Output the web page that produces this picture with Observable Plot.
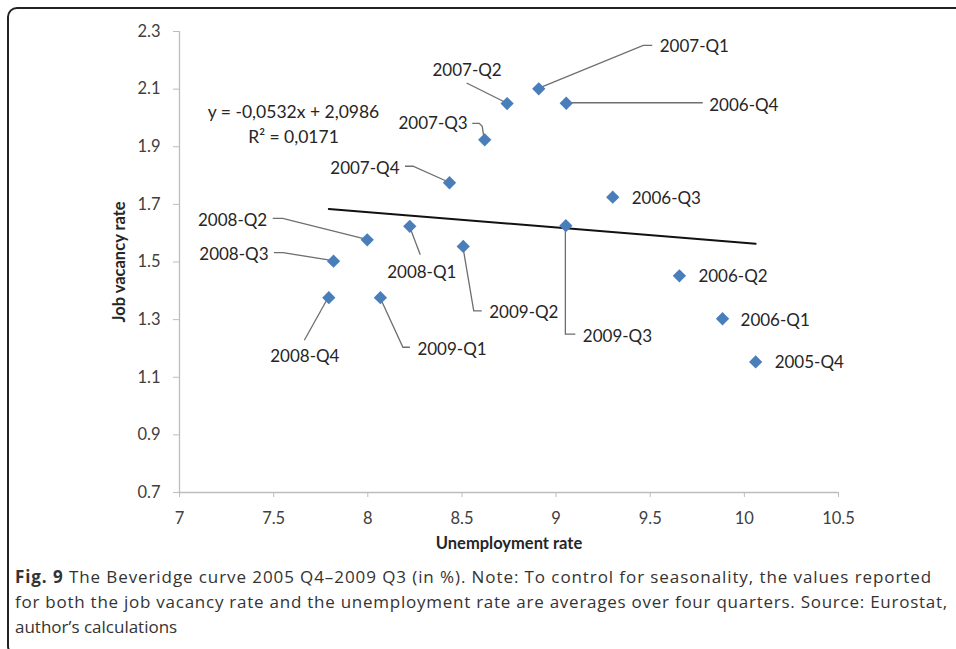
<!DOCTYPE html>
<html>
<head>
<meta charset="utf-8">
<script src="https://cdn.jsdelivr.net/npm/d3@7"></script>
<script src="https://cdn.jsdelivr.net/npm/@observablehq/plot@0.6"></script>
<style>
  html, body { margin: 0; padding: 0; background: #fff; }
  #wrap { position: relative; width: 956px; height: 649px; overflow: hidden; }
  #chart { position: absolute; left: 0; top: 0; }
  #frame { position: absolute; left: 7px; top: 7px; width: 1000px; height: 649px; box-sizing: border-box;
           border: 2px solid #222; border-radius: 10px; pointer-events: none; z-index: 2; }
  #caption { position: absolute; left: 15px; top: 564px; font-family: "Open Sans", sans-serif; font-size: 17px;
             line-height: 25px; color: #333; white-space: nowrap; }
  #caption span { display: inline-block; }
</style>
</head>
<body>
<div id="wrap">
  <div id="chart"></div>
  <div id="frame"></div>
  <div id="caption"><span data-w="917"><b>Fig. 9</b> The Beveridge curve 2005 Q4–2009 Q3 (in %). Note: To control for seasonality, the values reported</span><br><span data-w="933">for both the job vacancy rate and the unemployment rate are averages over four quarters. Source: Eurostat,</span><br><span>author’s calculations</span></div>
</div>
<script>
// ---- data ----
const quarters = ["2005-Q4","2006-Q1","2006-Q2","2006-Q3","2006-Q4","2007-Q1","2007-Q2","2007-Q3",
                  "2007-Q4","2008-Q1","2008-Q2","2008-Q3","2008-Q4","2009-Q1","2009-Q2","2009-Q3"];
const unemployment = [10.06, 9.884, 9.655, 9.301, 9.054, 8.908, 8.740, 8.621,
                      8.434, 8.223, 7.997, 7.818, 7.793, 8.067, 8.507, 9.052];
const vacancy = [1.153, 1.303, 1.452, 1.725, 2.051, 2.101, 2.050, 1.924,
                 1.775, 1.624, 1.577, 1.503, 1.376, 1.376, 1.554, 1.626];
const trendSlope = -0.0532;
const trendIntercept = 2.0986;
const trendR2 = 0.0171;
const xTicks = [7, 7.5, 8, 8.5, 9, 9.5, 10, 10.5];
const xTickLabels = ["7", "7.5", "8", "8.5", "9", "9.5", "10", "10.5"];
const yTicks = [0.7, 0.9, 1.1, 1.3, 1.5, 1.7, 1.9, 2.1, 2.3];
const yTickLabels = ["0.7", "0.9", "1.1", "1.3", "1.5", "1.7", "1.9", "2.1", "2.3"];
const xTitle = "Unemployment rate";
const yTitle = "Job vacancy rate";

// ---- label layout (pixel offsets from each point) ----
const labelLayout = {
  "2005-Q4": {dx: 19, dy: 1, anchor: "start"},
  "2006-Q1": {dx: 18, dy: 2, anchor: "start"},
  "2006-Q2": {dx: 19, dy: 1, anchor: "start"},
  "2006-Q3": {dx: 19, dy: 1, anchor: "start"},
  "2006-Q4": {dx: 143, dy: 2, anchor: "start", line: [[0,0],[137,0]]},
  "2007-Q1": {dx: 121, dy: -42, anchor: "start", line: [[0,0],[105,-43],[114,-43]]},
  "2007-Q2": {dx: -40, dy: -33, anchor: "middle", line: [[0,0],[-40,-20]]},
  "2007-Q3": {dx: -17, dy: -16, anchor: "end", line: [[0,0],[-2,-13],[-5,-16],[-12,-16]]},
  "2007-Q4": {dx: -50, dy: -14, anchor: "end", line: [[0,0],[-36,-16],[-44,-16]]},
  "2008-Q1": {dx: 12, dy: 46, anchor: "middle", line: [[0,0],[11,29]]},
  "2008-Q2": {dx: -100, dy: -19, anchor: "end", line: [[0,0],[-84,-21],[-94,-21]]},
  "2008-Q3": {dx: -65, dy: -7, anchor: "end", line: [[0,0],[-50,-8],[-59,-8]]},
  "2008-Q4": {dx: -24, dy: 59, anchor: "middle", line: [[0,0],[-24,43]]},
  "2009-Q1": {dx: 37, dy: 52, anchor: "start", line: [[0,0],[23,50],[30,50]]},
  "2009-Q2": {dx: 26, dy: 66, anchor: "start", line: [[0,0],[11,65],[19,65]]},
  "2009-Q3": {dx: 17, dy: 111, anchor: "start", line: [[0,0],[0,109],[10,109]]}
};

const points = quarters.map((q, i) => ({q, u: unemployment[i], v: vacancy[i]}));
const ux = d3.extent(unemployment);
const trend = ux.map(u => ({u, v: trendIntercept + trendSlope * u}));
const fmt = (n, k) => n.toFixed(k).replace(".", ",");
const eqText = "y = " + fmt(trendSlope, 4) + "x + " + fmt(trendIntercept, 4) + "\nR² = " + fmt(trendR2, 4);

function leaders(index, scales) {
  const g = d3.create("svg:g").attr("fill", "none").attr("stroke", "#6e6e6e").attr("stroke-width", 1.3);
  for (const d of points) {
    const L = labelLayout[d.q];
    if (!L.line) continue;
    const x0 = scales.x(d.u), y0 = scales.y(d.v);
    g.append("path").attr("d", "M" + L.line.map(([dx, dy]) => (x0 + dx) + "," + (y0 + dy)).join("L"));
  }
  return g.node();
}

const labelMarks = points.map(d => {
  const L = labelLayout[d.q];
  return Plot.text([d], {x: "u", y: "v", text: "q", dx: L.dx, dy: L.dy, textAnchor: L.anchor,
                         fill: "#262626", fontSize: 17});
});

const plot = Plot.plot({
  width: 956,
  height: 560,
  marginLeft: 179,
  marginRight: 118,
  marginTop: 31,
  marginBottom: 68,
  style: {fontFamily: "Lato, sans-serif", background: "transparent", overflow: "visible"},
  x: {domain: [7, 10.5]},
  y: {domain: [0.7, 2.3]},
  marks: [
    Plot.ruleY([0.7], {stroke: "#bdbdbd", strokeWidth: 1.3}),
    Plot.ruleX([7], {stroke: "#bdbdbd", strokeWidth: 1.3}),
    Plot.axisX({ticks: xTicks, tickFormat: d => xTickLabels[xTicks.indexOf(d)], tickSize: 5, tickPadding: 15,
                stroke: "#bdbdbd", fill: "#404040", fontSize: 16.5, label: null}),
    Plot.axisY({ticks: yTicks, tickFormat: d => yTickLabels[yTicks.indexOf(d)], tickSize: 6, tickPadding: 13,
                stroke: "#bdbdbd", fill: "#404040", fontSize: 16.5, label: null}),
    Plot.text([xTitle], {frameAnchor: "bottom", dy: 51, text: d => d, textAnchor: "middle", lineAnchor: "middle",
                         fontWeight: "bold", fontSize: 16.5, fill: "#262626"}),
    Plot.text([yTitle], {frameAnchor: "left", dx: -60, rotate: -90, text: d => d, textAnchor: "middle",
                         lineAnchor: "middle", fontWeight: "bold", fontSize: 16.5, fill: "#262626"}),
    leaders,
    Plot.line(trend, {x: "u", y: "v", stroke: "#111", strokeWidth: 2}),
    Plot.dot(points, {x: "u", y: "v", symbol: "square", rotate: 45, r: 5.3, fill: "#4a7ebb", stroke: "none"}),
    ...labelMarks,
    Plot.text([eqText], {frameAnchor: "top-left", dx: 114, dy: 91, text: d => d, textAnchor: "middle",
                         lineAnchor: "middle", lineHeight: 1.4, fontSize: 17.5, fill: "#262626"})
  ]
});
document.getElementById("chart").appendChild(plot);

// stretch caption lines to the widths seen in the figure
function fitCaption() {
  document.querySelectorAll("#caption span[data-w]").forEach(s => {
    s.style.letterSpacing = "0px";
    const w = s.getBoundingClientRect().width;
    const n = s.textContent.length;
    s.style.letterSpacing = ((+s.dataset.w - w) / n) + "px";
  });
}
fitCaption();
if (document.fonts && document.fonts.ready) document.fonts.ready.then(fitCaption);
</script>
</body>
</html>
